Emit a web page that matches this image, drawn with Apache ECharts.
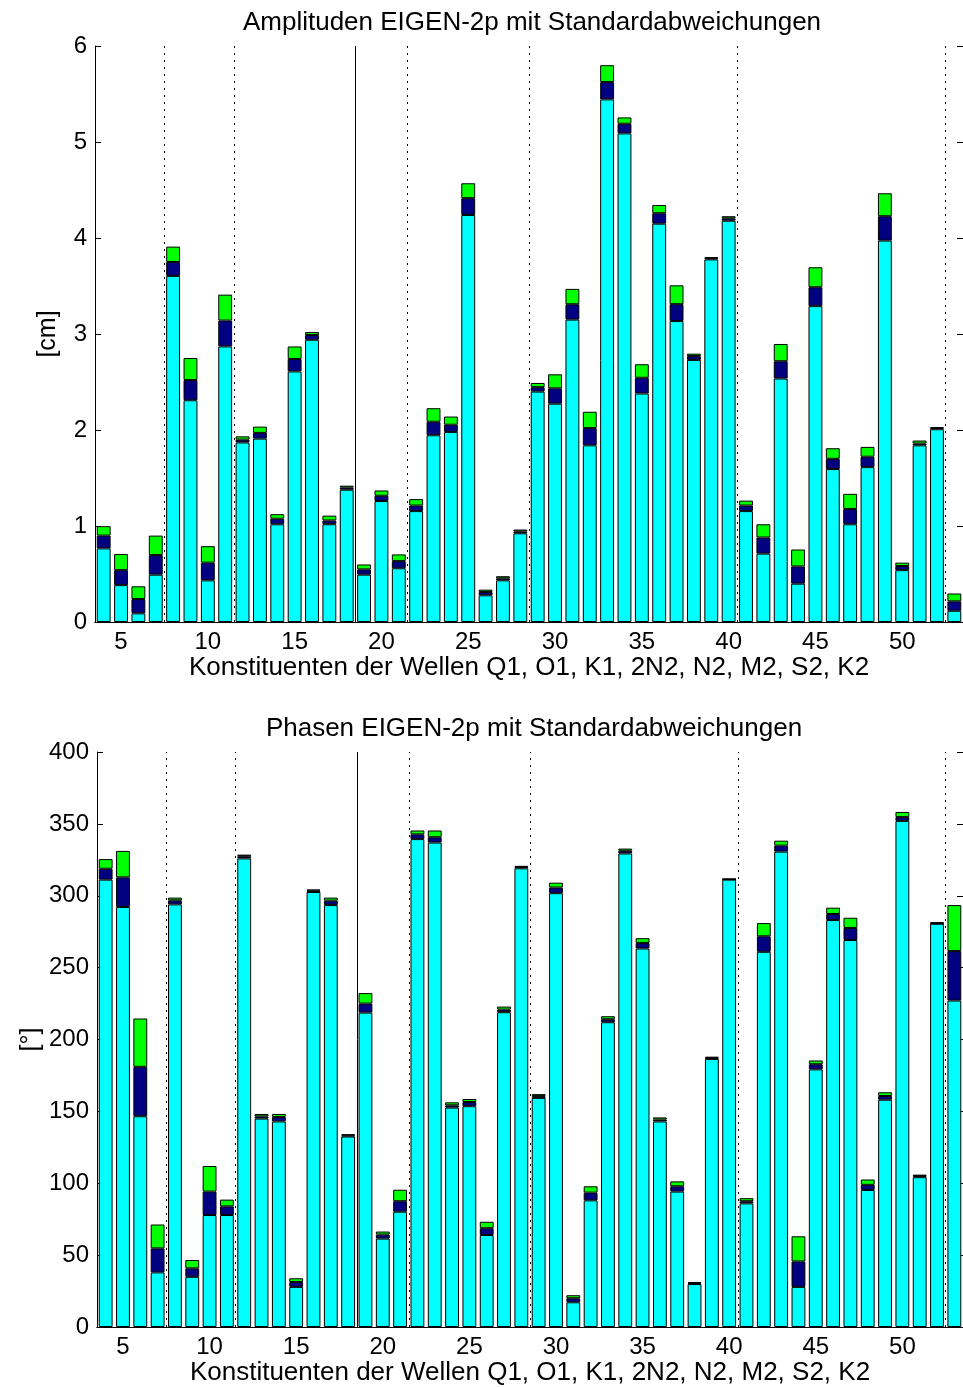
<!DOCTYPE html>
<html><head><meta charset="utf-8">
<script src="https://cdn.jsdelivr.net/npm/echarts@6/dist/echarts.min.js"></script>
<style>html,body{margin:0;padding:0;background:#fff}#c{width:963px;height:1387px}</style>
</head><body><div id="c"></div><script>
// Constituent indices (x categories)
const constituents = [4,5,6,7,8,9,10,11,12,13,14,15,16,17,18,19,20,21,22,23,24,25,26,27,28,29,30,31,32,33,34,35,36,37,38,39,40,41,42,43,44,45,46,47,48,49,50,51,52,53];
// Amplitudes [cm]: top of cyan, top of dark blue, top of green
const ampLow  = [0.767,0.384,0.09,0.493,3.605,2.31,0.434,2.87,1.87,1.91,1.018,2.61,2.94,1.018,1.378,0.493,1.26,0.56,1.155,1.945,1.98,4.24,0.278,0.434,0.924,2.40,2.274,3.15,1.84,5.444,5.09,2.38,4.149,3.135,2.73,3.777,4.18,1.155,0.712,2.536,0.399,3.29,1.593,1.018,1.613,3.973,0.54,1.84,2.008,0.117];
const ampMid  = [0.90,0.54,0.239,0.697,3.75,2.52,0.618,3.14,1.90,1.97,1.076,2.74,2.99,1.057,1.40,0.548,1.315,0.634,1.213,2.086,2.055,4.415,0.313,0.455,0.944,2.446,2.434,3.31,2.02,5.624,5.19,2.544,4.258,3.311,2.77,3.79,4.205,1.213,0.88,2.716,0.579,3.487,1.70,1.178,1.722,4.227,0.583,1.859,2.02,0.215];
const ampHigh = [0.998,0.708,0.372,0.90,3.91,2.75,0.79,3.41,1.934,2.035,1.123,2.87,3.02,1.108,1.42,0.599,1.37,0.704,1.28,2.227,2.14,4.57,0.337,0.477,0.963,2.49,2.58,3.47,2.19,5.80,5.256,2.685,4.344,3.507,2.795,3.80,4.227,1.264,1.018,2.896,0.755,3.695,1.81,1.335,1.824,4.466,0.618,1.89,2.03,0.297];
// Phases [deg]
const phaLow  = [311.2,292.2,146.6,38.0,294.0,34.9,77.9,77.9,326.0,145.0,143.0,27.9,302.6,293.5,132.5,218.7,61.5,80.2,339.4,337.0,152.6,153.6,64.0,219.0,319.1,159.4,301.8,17.2,88.1,212.0,329.4,263.3,143.0,94.2,29.9,186.5,311.2,86.0,261.0,330.7,27.9,179.2,283.1,269.2,95.3,158.1,352.1,104.2,280.5,227.1];
const phaMid  = [318.8,312.8,181.0,54.7,296.8,40.8,94.2,83.9,327.5,146.5,146.1,31.3,303.5,296.6,133.3,225.0,64.3,87.5,342.7,340.7,154.2,156.5,68.7,220.8,320.0,160.6,305.7,20.0,93.5,214.1,331.3,267.2,144.3,97.9,30.6,187.2,311.5,87.5,271.8,334.9,45.6,182.8,287.3,277.6,98.9,160.7,354.7,105.0,281.0,261.5];
const phaHigh = [325.5,331.2,214.6,71.3,298.7,46.6,112.0,88.6,328.6,148.2,148.2,33.9,304.4,298.7,134.1,232.3,66.4,95.5,345.4,345.4,156.3,158.6,73.2,222.9,320.8,162.0,309.1,22.1,97.9,216.2,332.8,270.5,145.8,101.3,31.3,188.0,311.8,89.6,281.0,338.3,63.1,185.4,291.7,284.7,102.6,163.3,358.3,106.0,281.5,293.5];
// Wave-group separators
const dottedSeparators = [7.5, 11.5, 21.5, 28.5, 40.5, 52.5];
const solidSeparators = [18.5];
const xTickStep = 5;
const titles = ['Amplituden EIGEN-2p mit Standardabweichungen', 'Phasen EIGEN-2p mit Standardabweichungen'];
const xLabel = 'Konstituenten der Wellen Q1, O1, K1, 2N2, N2, M2, S2, K2';
const yLabels = ['[cm]', '[°]'];
const yRanges = [{min: 0, max: 6, interval: 1}, {min: 0, max: 400, interval: 50}];

const FONT = "'Liberation Sans', Arial, sans-serif";
const grids = [
  {left: 95, top: 46, height: 576, right: -4},
  {left: 97, top: 752, height: 578, right: -6}
];
const showTick = (i, v) => Number(v) % xTickStep === 0;

const xAxes = [], yAxes = [], series = [], titleOpts = [];
function addChart(g, low, mid, high, yNameGap) {
  const xb = xAxes.length;
  xAxes.push({
    type: 'category', gridIndex: g, data: constituents.map(String), position: 'bottom',
    boundaryGap: true,
    axisLine: {lineStyle: {color: '#000', width: 1}},
    axisTick: {inside: true, length: 6, interval: showTick, alignWithLabel: true, lineStyle: {color: '#000'}},
    axisLabel: {interval: showTick, color: '#000', fontSize: 24, fontFamily: FONT, margin: 8},
    splitLine: {show: false},
    name: xLabel, nameLocation: 'middle', nameGap: 33,
    nameTextStyle: {color: '#000', fontSize: 26, fontFamily: FONT}
  });
  xAxes.push({
    type: 'category', gridIndex: g, data: constituents.map(String), position: 'top',
    boundaryGap: true,
    axisLine: {lineStyle: {color: '#000', width: 1}},
    axisTick: {inside: true, length: 6, interval: showTick, alignWithLabel: true, lineStyle: {color: '#000'}},
    axisLabel: {show: false}, splitLine: {show: false}
  });
  xAxes.push({type: 'value', gridIndex: g, min: 3.5, max: 53.5, show: false});
  const yb = yAxes.length;
  const r = yRanges[g];
  yAxes.push({
    type: 'value', gridIndex: g, position: 'left', min: r.min, max: r.max, interval: r.interval,
    axisLine: {show: true, lineStyle: {color: '#000', width: 1}},
    axisTick: {show: true, inside: true, length: 6, lineStyle: {color: '#000'}},
    axisLabel: {color: '#000', fontSize: 24, fontFamily: FONT, margin: 8},
    splitLine: {show: false},
    name: yLabels[g], nameLocation: 'middle', nameGap: yNameGap, nameRotate: 90,
    nameMoveOverlap: false,
    nameTextStyle: {color: '#000', fontSize: 25, fontFamily: FONT}
  });
  yAxes.push({
    type: 'value', gridIndex: g, position: 'right', min: r.min, max: r.max, interval: r.interval,
    axisLine: {show: true, lineStyle: {color: '#000', width: 1}},
    axisTick: {show: true, inside: true, length: 6, lineStyle: {color: '#000'}},
    axisLabel: {show: false}, splitLine: {show: false}
  });
  const segs = [
    {color: '#00ffff', data: low.map(v => v)},
    {color: '#000080', data: mid.map((v, i) => +(v - low[i]).toFixed(4))},
    {color: '#00ff00', data: high.map((v, i) => +(v - mid[i]).toFixed(4))}
  ];
  segs.forEach(s => series.push({
    type: 'bar', xAxisIndex: xb, yAxisIndex: yb, stack: 'st' + g, barWidth: '80%',
    data: s.data, z: 3, silent: true,
    itemStyle: {color: s.color, borderColor: '#000', borderWidth: 1}
  }));
  series.push({
    type: 'line', xAxisIndex: xb + 2, yAxisIndex: yb, data: [], z: 1, silent: true,
    markLine: {
      silent: true, symbol: ['none', 'none'], label: {show: false}, animation: false,
      data: dottedSeparators.map(v => ({xAxis: v, lineStyle: {color: '#000', width: 1, type: [2, 5]}}))
        .concat(solidSeparators.map(v => ({xAxis: v, lineStyle: {color: '#000', width: 1, type: 'solid'}})))
    }
  });
  const gr = grids[g];
  titleOpts.push({
    text: titles[g], left: gr.left + (963 - gr.right - gr.left) / 2 - 4, top: gr.top - 41, textAlign: 'center',
    textStyle: {color: '#000', fontSize: 26, fontWeight: 'normal', fontFamily: FONT}
  });
}
addChart(0, ampLow, ampMid, ampHigh, 34);
addChart(1, phaLow, phaMid, phaHigh, 53);

const chart = echarts.init(document.getElementById('c'), null, {renderer: 'canvas'});
chart.setOption({
  backgroundColor: '#fff',
  animation: false,
  title: titleOpts,
  grid: grids,
  xAxis: xAxes,
  yAxis: yAxes,
  series: series
});
</script></body></html>
